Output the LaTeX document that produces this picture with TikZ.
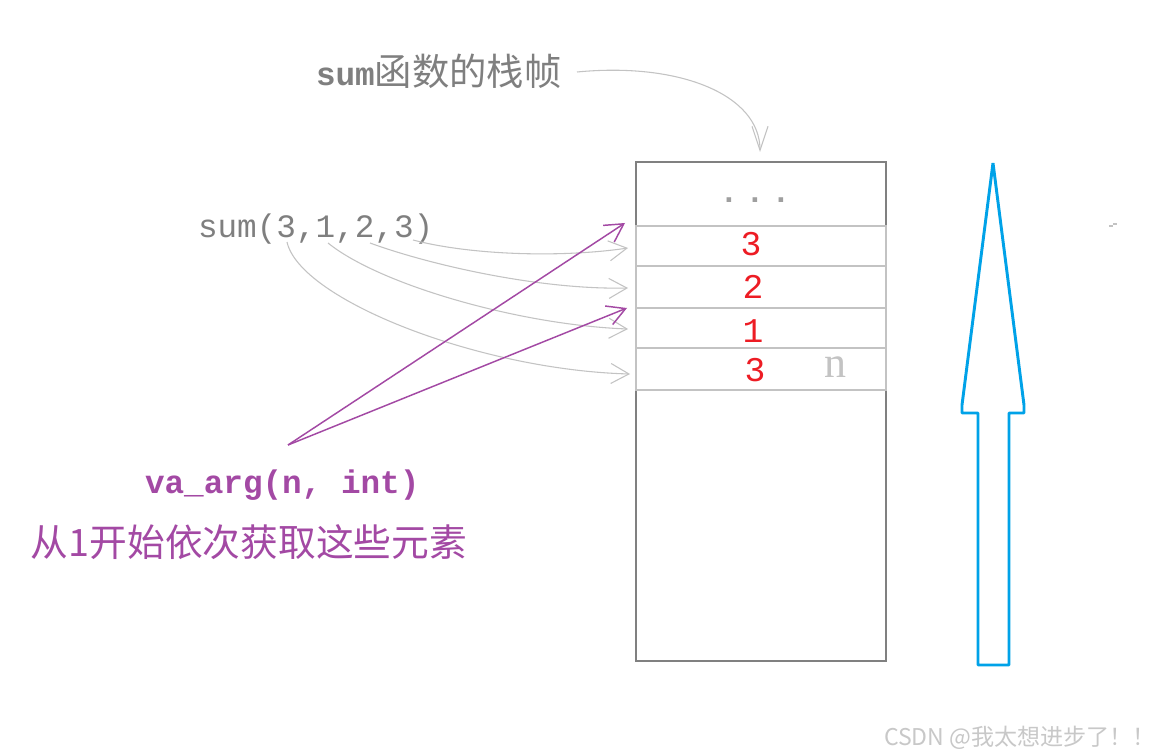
\documentclass[tikz,border=0pt]{standalone}
\usepackage{fontspec}
\usetikzlibrary{arrows.meta}
\newfontfamily\cjk{Noto Sans CJK SC}
\newfontfamily\mono{Liberation Mono}
\newfontfamily\serifn{Liberation Serif}
\definecolor{txtgray}{HTML}{7F7F7F}
\definecolor{lgray}{HTML}{C3C3C3}
\definecolor{boxgray}{HTML}{808080}
\definecolor{vpurple}{HTML}{A349A4}
\definecolor{vred}{HTML}{ED1C24}
\definecolor{vblue}{HTML}{00A2E8}
\definecolor{wmgray}{HTML}{C8C8C8}
\begin{document}
\begin{tikzpicture}[x=0.75pt,y=-0.75pt,
  txt/.style={inner sep=0pt, outer sep=0pt},
  garrow/.style={draw=lgray, line width=0.8pt, -{Straight Barb[length=13.5pt,width=15pt]}},
  parrow/.style={draw=vpurple, line width=1.1pt, -{Straight Barb[length=13.5pt,width=15pt]}},
  digit/.style={txt, anchor=base, text=vred, font=\mono\fontsize{26}{30}\selectfont},
  monotxt/.style={txt, anchor=base west, font=\mono\fontsize{24.5}{28}\selectfont},
]
\useasboundingbox[fill=white] (0,0) rectangle (1154,756);

% stack frame box
\node[draw=boxgray, line width=1.3pt, minimum width=187.5pt, minimum height=374.25pt, inner sep=0pt] (frame) at (761,411.5) {};
\node[draw=lgray, line width=1.3pt, minimum width=187.5pt, minimum height=123pt, inner sep=0pt] (rows) at (761,308) {};
\draw[lgray, line width=1.3pt] (636,266) -- (886,266) (636,308) -- (886,308) (636,348) -- (886,348);

% row contents
\node[txt, anchor=base, text=gray!75, font=\mono\bfseries\fontsize{24}{28}\selectfont] (dots) at (755,203)
  {\makebox[19.5pt]{.}\makebox[19.5pt]{.}\makebox[19.5pt]{.}};
\node[digit] (d3a) at (751,256) {3};
\node[digit] (d2) at (753,299) {2};
\node[digit] (d1) at (753,342) {1};
\node[digit] (d3b) at (755,381) {3};
\node[txt, anchor=base, text=lgray, font=\serifn\fontsize{33}{36}\selectfont] (nlab) at (835,377) {n};

% title
\node[txt, anchor=base west, text=txtgray] (title) at (316,86)
  {{\mono\bfseries\fontsize{24.5}{28}\selectfont sum}{\cjk\fontsize{28}{30}\selectfont 函数的栈帧}};
\coordinate (t0) at (577,72);
\coordinate (t1) at (760,152);
\draw[draw=lgray, line width=0.8pt, -{Straight Barb[length=18pt,width=12pt]}]
  (t0) .. controls (680,62) and (760,95) .. (t1);

% call
\node[monotxt, text=txtgray] (call) at (198,238) {sum(3,1,2,3)};
\coordinate (s3a) at (287,242);
\coordinate (s1) at (328,243);
\coordinate (s2) at (370,243);
\coordinate (s3b) at (413,240);
\coordinate (e3a) at (628,248);
\coordinate (e2) at (628,288);
\coordinate (e1) at (628,329);
\coordinate (en) at (630,374);
\draw[garrow] (s3b) .. controls (470,255) and (560,258) .. (e3a);
\draw[garrow] (s2) .. controls (430,265) and (540,290) .. (e2);
\draw[garrow] (s1) .. controls (380,285) and (520,325) .. (e1);
\draw[garrow] (s3a) .. controls (300,300) and (480,370) .. (en);

% va_arg
\coordinate (va) at (288,445);
\coordinate (p1) at (625,223);
\coordinate (p2) at (627,308);
\draw[parrow] (va) -- (p1);
\draw[parrow] (va) -- (p2);
\node[monotxt, text=vpurple, font=\mono\bfseries\fontsize{24.5}{28}\selectfont] (vaarg) at (145,493) {va\_arg(n, int)};
\node[txt, anchor=base west, text=vpurple, font=\cjk\fontsize{28.3}{32}\selectfont] (desc) at (31,556) {从1开始依次获取这些元素};

% blue growth arrow
\draw[vblue, line width=2.2pt, line join=bevel]
  (993,163) -- (1024,405) -- (1024,413) -- (1009,413) -- (1009,665) -- (978,665)
  -- (978,413) -- (962,413) -- (962,405) -- cycle;

% stray mark
\draw[lgray, line width=1pt] (1109,226) -- (1113,226) (1113,224) -- (1117,224);

% watermark
\node[txt, anchor=base west, text=wmgray, font=\cjk\fontsize{17.3}{20}\selectfont] (wm) at (884,745) {CSDN @我太想进步了！！};
\end{tikzpicture}
\end{document}
